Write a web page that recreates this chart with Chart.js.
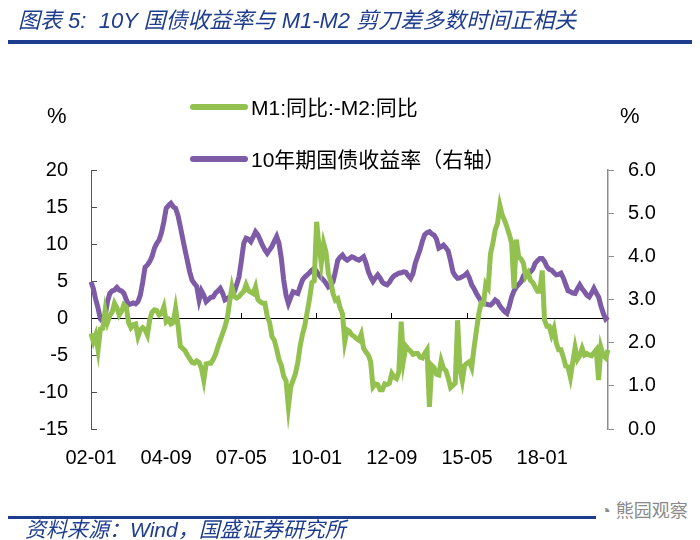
<!DOCTYPE html>
<html>
<head>
<meta charset="utf-8">
<script src="https://cdn.jsdelivr.net/npm/chart.js@4.4.1/dist/chart.umd.min.js"></script>
<style>
html, body { margin: 0; padding: 0; background: #fff; }
#wrap { position: relative; width: 700px; height: 540px; overflow: hidden;
        font-family: Tahoma, 'Liberation Sans', 'Noto Sans CJK SC', sans-serif; }
#chart { position: absolute; left: 0; top: 0; }
.title { position: absolute; left: 18px; top: 2px; font-size: 22px; font-style: italic;
         color: #1f3d8f; white-space: nowrap; }
.rule { position: absolute; left: 8px; width: 684px; background: #1f3d8f; }
.source { position: absolute; left: 25px; top: 513px; font-size: 21px; font-style: italic;
          color: #1f3d8f; white-space: nowrap; }
.mark { position: absolute; left: 596px; top: 496px; font-size: 18px; color: #8a8a8a;
        background: #fff; padding: 0 4px; white-space: nowrap; }
.unit { position: absolute; top: 103px; font-size: 22px; color: #000; }
#legend { position: absolute; left: 190px; top: 96px; }
.lg-row { position: absolute; left: 0; height: 24px; line-height: 24px; font-size: 21px;
          color: #000; white-space: nowrap; }
.lg-swatch { display: inline-block; width: 58px; height: 6px; border-radius: 3px;
             vertical-align: middle; margin-right: 3px; position: relative; top: -2px; }
</style>
</head>
<body>
<div id="wrap">
  <canvas id="chart" width="700" height="540"></canvas>
  <div class="title">图表 5:&nbsp; 10Y 国债收益率与 M1-M2 剪刀差多数时间正相关</div>
  <div class="rule" style="top:40px;height:4px;"></div>
  <div class="unit" style="left:47px;">%</div>
  <div class="unit" style="left:620px;">%</div>
  <div id="legend"></div>
  <div class="rule" style="top:516px;height:3px;"></div>
  <div class="mark">◔ 熊园观察</div>
  <div class="source">资料来源：Wind，国盛证券研究所</div>
</div>
<script>
// 月度数据 2002-01 ~ 2020-05
const startYear = 2002;
const monthCount = 221;
const months = [];
for (let i = 0; i < monthCount; i++) {
    const y = startYear + Math.floor(i / 12);
    const m = (i % 12) + 1;
    months.push(String(y % 100).padStart(2, '0') + '-' + String(m).padStart(2, '0'));
}

const xTickLabels = ['02-01', '04-09', '07-05', '10-01', '12-09', '15-05', '18-01'];

// M1同比 - M2同比 (%)
const m1m2Gap = [
    -2.1, -3.2, -2.3, -4.3, -1.5, -1.4, 1.0, -0.6, 0.3, 0.8, 2.0, 1.4,
    0.4, 0.9, 1.8, 1.5, -0.6, -1.3, -0.9, -0.8, -2.5, -1.6, -1.3, -1.6,
    -2.3, -0.2, 0.8, 1.1, 1.0, 0.4, 0.6, 1.5, -0.5, -0.2, -0.8, -0.6,
    1.3, -0.9, -3.8, -4.1, -4.4, -5.0, -5.5, -6.0, -6.1, -5.8, -6.0, -6.8,
    -8.4, -6.2, -6.1, -6.1, -5.6, -4.9, -3.9, -3.0, -2.1, -1.2, 0.0, 2.2,
    4.2, 2.9, 2.7, 2.9, 3.3, 3.6, 4.5, 3.7, 3.5, 3.3, 4.2, 2.5,
    2.2, 2.0, 2.0, 0.2, -0.6, -2.5, -3.0, -4.2, -5.6, -6.4, -7.9, -8.5,
    -12.0, -9.3, -8.4, -7.5, -6.0, -3.8, -2.2, -1.0, 0.8, 2.6, 4.8, 5.0,
    13.0, 9.8, 7.4, 10.1, 8.9, 6.0, 5.0, 3.3, 2.4, 2.6, 1.4, 0.6,
    -3.2, -1.6, -1.8, -2.3, -2.5, -2.8, -3.0, -2.2, -4.1, -4.6, -5.0, -5.9,
    -9.3, -8.9, -9.0, -9.7, -9.7, -8.9, -9.0, -8.8, -7.5, -8.0, -8.2, -7.3,
    -0.5, -5.7, -3.8, -4.2, -4.5, -4.9, -4.8, -4.8, -5.3, -5.4, -4.8, -4.3,
    -12.0, -6.4, -6.7, -7.6, -7.7, -5.8, -6.8, -7.1, -8.1, -9.4, -9.1, -8.8,
    -0.3, -6.9, -8.5, -6.4, -6.1, -5.9, -6.7, -4.0, -1.7, 0.5, 2.0, 1.9,
    4.6, 4.1, 8.7, 10.1, 11.9, 12.8, 15.2, 13.9, 13.2, 12.3, 11.3, 10.1,
    4.0, 10.6, 8.2, 8.0, 7.4, 5.6, 6.1, 5.1, 4.8, 4.2, 3.6, 3.6,
    6.4, -0.3, -1.1, -1.1, -2.3, -1.4, -3.4, -4.3, -4.3, -5.3, -6.5, -6.6,
    -8.0, -6.0, -4.0, -5.6, -5.1, -4.1, -5.0, -4.8, -5.0, -5.1, -4.7, -4.3,
    -8.4, -4.0, -5.1, -5.4, -4.3
];

// 10年期国债收益率 (%)
const bond10y = [
    3.41, 3.25, 3.00, 2.80, 2.55, 2.49, 2.60, 2.95, 3.14, 3.20, 3.22, 3.28,
    3.22, 3.20, 3.14, 3.00, 2.88, 2.90, 2.92, 2.90, 2.95, 3.10, 3.40, 3.75,
    3.80, 3.88, 4.00, 4.19, 4.30, 4.38, 4.55, 4.80, 5.11, 5.18, 5.23, 5.15,
    5.11, 4.95, 4.69, 4.42, 4.15, 3.90, 3.64, 3.45, 3.37, 3.30, 2.99, 3.20,
    3.10, 2.95, 3.00, 3.05, 3.06, 3.15, 3.20, 3.26, 3.15, 2.99, 3.02, 3.06,
    3.10, 3.18, 3.35, 3.53, 3.90, 4.30, 4.42, 4.40, 4.34, 4.45, 4.57, 4.50,
    4.38, 4.25, 4.15, 4.07, 4.15, 4.23, 4.35, 4.46, 4.30, 3.95, 3.45, 3.10,
    2.91, 3.05, 3.18, 3.16, 3.14, 3.30, 3.45, 3.52, 3.57, 3.62, 3.68, 3.72,
    3.65, 3.57, 3.50, 3.45, 3.38, 3.29, 3.33, 3.41, 3.65, 3.91, 3.98, 4.03,
    3.95, 3.91, 3.95, 3.99, 3.97, 3.93, 3.91, 3.95, 3.99, 3.85, 3.65, 3.52,
    3.42, 3.50, 3.57, 3.50, 3.40, 3.36, 3.34, 3.40, 3.49, 3.55, 3.58, 3.61,
    3.62, 3.64, 3.63, 3.55, 3.49, 3.60, 3.84, 4.00, 4.15, 4.35, 4.50, 4.55,
    4.57, 4.52, 4.49, 4.40, 4.19, 4.22, 4.26, 4.20, 4.12, 3.90, 3.64, 3.55,
    3.49, 3.50, 3.53, 3.56, 3.61, 3.50, 3.34, 3.25, 3.14, 3.05, 2.95, 2.91,
    2.90, 2.88, 2.87, 2.92, 2.99, 2.95, 2.85, 2.78, 2.72, 2.68, 2.85, 3.06,
    3.20, 3.29, 3.35, 3.41, 3.55, 3.61, 3.62, 3.64, 3.70, 3.84, 3.90, 3.95,
    3.95, 3.88, 3.76, 3.70, 3.68, 3.62, 3.57, 3.58, 3.61, 3.50, 3.35, 3.20,
    3.18, 3.15, 3.14, 3.25, 3.34, 3.25, 3.18, 3.10, 3.06, 3.15, 3.26, 3.15,
    3.06, 2.85, 2.68, 2.55, 2.60
];

const fontFamily = "Tahoma, 'Liberation Sans', 'Noto Sans CJK SC', sans-serif";

// 只保留需要显示的刻度 (每32个月一个)
function keepLabelTicks(scale) {
    scale.ticks = scale.ticks.filter(t => xTickLabels.includes(months[t.value]));
}

const chart = new Chart(document.getElementById('chart'), {
    type: 'line',
    data: {
        labels: months,
        datasets: [
            {
                label: 'M1:同比:-M2:同比',
                data: m1m2Gap,
                borderColor: '#92c14f',
                backgroundColor: '#92c14f',
                borderWidth: 5,
                pointRadius: 0,
                tension: 0,
                yAxisID: 'y',
                xAxisID: 'x'
            },
            {
                label: '10年期国债收益率（右轴）',
                data: bond10y,
                borderColor: '#7d5ba6',
                backgroundColor: '#7d5ba6',
                borderWidth: 5,
                pointRadius: 0,
                tension: 0,
                yAxisID: 'y1',
                xAxisID: 'x'
            }
        ]
    },
    options: {
        responsive: false,
        animation: false,
        devicePixelRatio: 1,
        layout: { padding: { top: 170, left: 0, right: 0, bottom: 0 } },
        plugins: {
            legend: { display: false },
            tooltip: { enabled: false }
        },
        scales: {
            x: {
                type: 'category',
                position: 'bottom',
                afterBuildTicks: keepLabelTicks,
                afterFit: s => { s.height = 111; },
                grid: { display: false, drawTicks: false },
                border: { display: false },
                ticks: {
                    autoSkip: false,
                    maxRotation: 0,
                    padding: 17,
                    color: '#000',
                    font: { family: fontFamily, size: 20 }
                }
            },
            x0: {
                type: 'category',
                position: { y: 0 },
                afterBuildTicks: keepLabelTicks,
                afterFit: s => { s.height = 0; },
                grid: { drawOnChartArea: false, drawTicks: true, tickLength: -6, color: '#000', lineWidth: 1 },
                border: { display: true, color: '#000', width: 1 },
                ticks: { display: false, autoSkip: false }
            },
            y: {
                position: 'left',
                min: -15,
                max: 20,
                afterFit: s => { s.width = 91; },
                grid: { drawOnChartArea: false, drawTicks: true, tickLength: -6, color: '#4a4a4a' },
                border: { display: true, color: '#5a5a5a', width: 1 },
                ticks: {
                    stepSize: 5,
                    padding: 29,
                    color: '#000',
                    font: { family: fontFamily, size: 20 }
                }
            },
            y1: {
                position: 'right',
                min: 0,
                max: 6,
                afterFit: s => { s.width = 92; },
                grid: { drawOnChartArea: false, drawTicks: true, tickLength: 6, color: '#8c8c8c' },
                border: { display: true, color: '#8c8c8c', width: 1.5 },
                ticks: {
                    stepSize: 1,
                    padding: 14,
                    color: '#000',
                    font: { family: fontFamily, size: 20 },
                    callback: v => v.toFixed(1)
                }
            }
        }
    }
});

// 图例
const legendBox = document.getElementById('legend');
chart.data.datasets.forEach((ds, i) => {
    const row = document.createElement('div');
    row.className = 'lg-row';
    row.style.top = (i * 52) + 'px';
    const sw = document.createElement('span');
    sw.className = 'lg-swatch';
    sw.style.background = ds.borderColor;
    row.appendChild(sw);
    row.appendChild(document.createTextNode(ds.label));
    legendBox.appendChild(row);
});
</script>
</body>
</html>
